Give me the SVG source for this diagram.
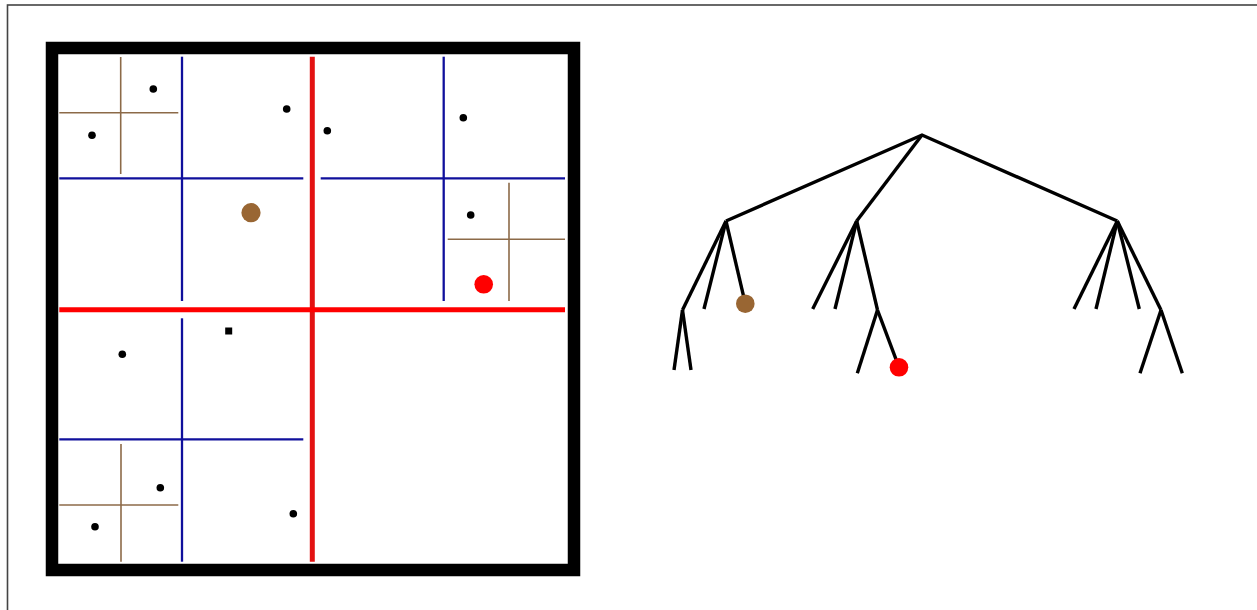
<svg xmlns="http://www.w3.org/2000/svg" width="1257" height="610" viewBox="0 0 1257 610">
<style>
.frame{fill:none;stroke:#444;stroke-width:1.6}
.red{stroke:#f00;stroke-width:5;fill:none}
.redv{stroke:#e31212;stroke-width:5;fill:none}
.blue{stroke:#10109c;stroke-width:2.3;fill:none}
.brown{stroke:#8c6a48;stroke-width:1.6;fill:none}
.pt{fill:#000}
.edge{stroke:#000;stroke-width:3.4;fill:none;stroke-linecap:butt}
</style>
<rect width="1257" height="610" fill="#fff"/>
<rect class="frame" x="7.5" y="5" width="1260" height="620"/>
<g id="space">
<rect x="52" y="48" width="522" height="522" fill="#fff" stroke="#000" stroke-width="12.5"/>
<g id="brown-splits">
<line class="brown" x1="120.7" y1="57" x2="120.7" y2="174"/>
<line class="brown" x1="59.3" y1="112.7" x2="178.3" y2="112.7"/>
<line class="brown" x1="509" y1="182.7" x2="509" y2="301"/>
<line class="brown" x1="447.7" y1="239.3" x2="565" y2="239.3"/>
<line class="brown" x1="121" y1="444" x2="121" y2="561.7"/>
<line class="brown" x1="59.3" y1="505" x2="178.3" y2="505"/>
</g>
<g id="blue-splits">
<line class="blue" x1="182" y1="56.7" x2="182" y2="301"/>
<line class="blue" x1="182" y1="318.3" x2="182" y2="561.7"/>
<line class="blue" x1="59.3" y1="178.3" x2="303.3" y2="178.3"/>
<line class="blue" x1="320.7" y1="178.3" x2="565" y2="178.3"/>
<line class="blue" x1="443.7" y1="56.7" x2="443.7" y2="301"/>
<line class="blue" x1="59.3" y1="439.3" x2="303.3" y2="439.3"/>
</g>
<g id="red-splits">
<line class="redv" x1="312.3" y1="56.7" x2="312.3" y2="561.7"/>
<line class="red" x1="59.3" y1="309.7" x2="565" y2="309.7"/>
</g>
<g id="points">
<circle class="pt" cx="153.3" cy="89" r="3.8"/>
<circle class="pt" cx="92" cy="135.3" r="3.8"/>
<circle class="pt" cx="286.7" cy="109" r="3.8"/>
<circle class="pt" cx="327.3" cy="130.7" r="3.8"/>
<circle class="pt" cx="463.3" cy="117.7" r="3.8"/>
<circle class="pt" cx="470.7" cy="215" r="3.8"/>
<circle class="pt" cx="122.3" cy="354.3" r="3.8"/>
<rect class="pt" x="225.2" y="327.5" width="7" height="7"/>
<circle class="pt" cx="160.3" cy="487.7" r="3.8"/>
<circle class="pt" cx="95" cy="526.7" r="3.8"/>
<circle class="pt" cx="293.3" cy="513.7" r="3.8"/>
<circle cx="251" cy="212.7" r="9.6" fill="#996633"/>
<circle cx="483.7" cy="284.3" r="9.3" fill="#f00"/>
</g>
</g>
<g id="connectors">
<polyline class="edge" points="726,221 922,135 1117.3,221"/>
<line class="edge" x1="922" y1="135" x2="856.7" y2="221"/>
<line class="edge" x1="726" y1="221" x2="682.5" y2="310"/>
<line class="edge" x1="726" y1="221" x2="704" y2="309"/>
<line class="edge" x1="726" y1="221" x2="745.3" y2="303.7"/>
<line class="edge" x1="682.5" y1="310" x2="674" y2="370"/>
<line class="edge" x1="682.5" y1="310" x2="691" y2="370"/>
<line class="edge" x1="856.7" y1="221" x2="812.7" y2="309"/>
<line class="edge" x1="856.7" y1="221" x2="835" y2="309"/>
<line class="edge" x1="856.7" y1="221" x2="877.5" y2="310"/>
<line class="edge" x1="877.5" y1="310" x2="857.3" y2="373.3"/>
<line class="edge" x1="877.5" y1="310" x2="899" y2="367.3"/>
<line class="edge" x1="1117.3" y1="221" x2="1074" y2="309"/>
<line class="edge" x1="1117.3" y1="221" x2="1096" y2="309"/>
<line class="edge" x1="1117.3" y1="221" x2="1139.3" y2="309"/>
<line class="edge" x1="1117.3" y1="221" x2="1161" y2="310"/>
<line class="edge" x1="1161" y1="310" x2="1140" y2="373.3"/>
<line class="edge" x1="1161" y1="310" x2="1182.3" y2="373.3"/>
</g>
<g id="node-brown"><circle cx="745.3" cy="303.7" r="9.3" fill="#996633"/></g>
<g id="node-red"><circle cx="899" cy="367.3" r="9.3" fill="#f00"/></g>
</svg>
